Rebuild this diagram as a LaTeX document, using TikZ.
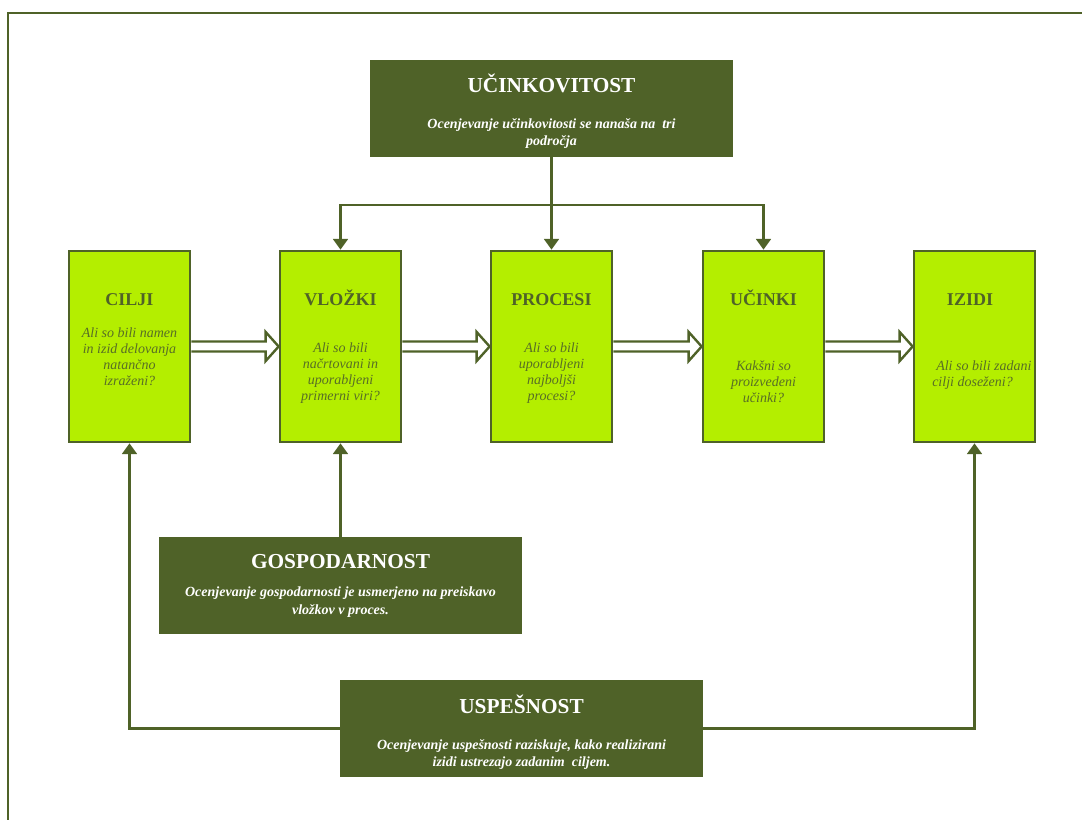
\documentclass[tikz,border=0pt]{standalone}
\usepackage{fontspec}
\setmainfont{Liberation Serif}
\usetikzlibrary{arrows.meta,calc}
\definecolor{dolive}{RGB}{79,98,40}
\definecolor{gtext}{RGB}{88,110,38}
\definecolor{glime}{RGB}{180,238,0}
\newcommand{\bxhead}{\fontsize{13.5}{16}\selectfont\bfseries}
\newcommand{\bxbody}{\fontsize{10.5}{12}\selectfont\itshape}
\newcommand{\dkhead}{\fontsize{16}{19}\selectfont\bfseries}
\newcommand{\dkbody}{\fontsize{10.5}{12.5}\selectfont\bfseries\itshape}
\newcommand{\dkbodyw}{\fontsize{10.5}{14}\selectfont\bfseries\itshape}
\newcommand{\hollowarr}[2]{%
  \draw[harrow] ($(#1.east)+(0,5)$) -- ($(#2.west)+(-13,5)$) -- ++(0,9.5)
     -- (#2.west) -- ++(-13,-14.5) -- ++(0,9.5) -- ($(#1.east)+(0,-5)$);}

\begin{document}
\begin{tikzpicture}[x=0.75pt,y=0.75pt,
   gbox/.style={draw=dolive,line width=2pt,fill=glime,minimum width=90.75pt,minimum height=143.25pt,inner sep=0pt},
   dbox/.style={fill=dolive,minimum width=272.25pt,minimum height=72.75pt,inner sep=0pt},
   gtit/.style={inner sep=0pt,anchor=base,text=dolive,font=\bxhead},
   gtxt/.style={inner sep=0pt,align=center,text=gtext,font=\bxbody},
   dtit/.style={inner sep=0pt,anchor=base,text=white,font=\dkhead},
   dtxt/.style={inner sep=0pt,align=center,text=white,font=\dkbody},
   conn/.style={draw=dolive,line width=1.8pt,-{Triangle[width=11pt,length=8pt]}},
   harrow/.style={draw=dolive,line width=1.8pt,fill=white,line join=miter}]
   \useasboundingbox (0,0) rectangle (1082,-820);
   % frame
   \draw[dolive,line width=2pt] (1082,-13) -- (8,-13) -- (8,-820);
   % the five boxes in a row
   \node[gbox] (cilji)   at (129.5,-346.5) {};
   \node[gbox] (vlozki)  at (340.5,-346.5) {};
   \node[gbox] (procesi) at (551.5,-346.5) {};
   \node[gbox] (ucinki)  at (763.5,-346.5) {};
   \node[gbox] (izidi)   at (974.5,-346.5) {};
   \node[gtit] (ciljit)   at (129.5,-305) {CILJI};
   \node[gtit] (vlozkit)  at (340.5,-305) {VLOŽKI};
   \node[gtit] (procesit) at (551.5,-305) {PROCESI};
   \node[gtit] (ucinkit)  at (763.5,-305) {UČINKI};
   \node[gtit] (izidit)   at (970.0,-305) {IZIDI};
   \node[gtxt] (ciljib)   at (129.5,-357) {Ali so bili namen\\in izid delovanja\\natančno\\izraženi?};
   \node[gtxt] (vlozkib)  at (340.5,-373.5) {Ali so bili\\načrtovani in\\uporabljeni\\primerni viri?};
   \node[gtxt] (procesib) at (551.5,-373.5) {Ali so bili\\uporabljeni\\najboljši\\procesi?};
   \node[gtxt] (ucinkib)  at (763.5,-382) {Kakšni so\\proizvedeni\\učinki?};
   \node[gtxt,align=left,anchor=west] (izidib) at (932,-375) {\hspace{3pt}Ali so bili zadani\\cilji doseženi?};
   % hollow arrows
   \hollowarr{cilji}{vlozki}
   \hollowarr{vlozki}{procesi}
   \hollowarr{procesi}{ucinki}
   \hollowarr{ucinki}{izidi}
   % dark boxes
   \node[dbox] (ucink) at (551.5,-108.5) {};
   \node[dtit] (ucinkt) at (551.5,-92.7) {UČINKOVITOST};
   \node[dtxt] (ucinkb) at (551.5,-133.5) {Ocenjevanje učinkovitosti se nanaša na\ \ tri\\področja};
   \node[dbox] (gosp) at (340.5,-585.5) {};
   \node[dtit] (gospt) at (340.5,-568.3) {GOSPODARNOST};
   \node[dtxt,font=\dkbodyw] (gospb) at (340.5,-602) {Ocenjevanje gospodarnosti je usmerjeno na preiskavo\\vložkov v proces.};
   \node[dbox] (uspe) at (521.5,-728.5) {};
   \node[dtit] (uspet) at (521.5,-713.3) {USPEŠNOST};
   \node[dtxt] (uspeb) at (521.5,-754.5) {Ocenjevanje uspešnosti raziskuje, kako realizirani\\izidi ustrezajo zadanim\ \ ciljem.};
   % connectors
   \coordinate (split) at (551.5,-205);
   \draw[conn] (ucink.south) -- (procesi.north);
   \draw[conn] (split) -| (vlozki.north);
   \draw[conn] (split) -| (ucinki.north);
   \draw[conn] (gosp.north) -- (vlozki.south);
   \draw[conn] (uspe.west) -| (cilji.south);
   \draw[conn] (uspe.east) -| (izidi.south);
\end{tikzpicture}
\end{document}
